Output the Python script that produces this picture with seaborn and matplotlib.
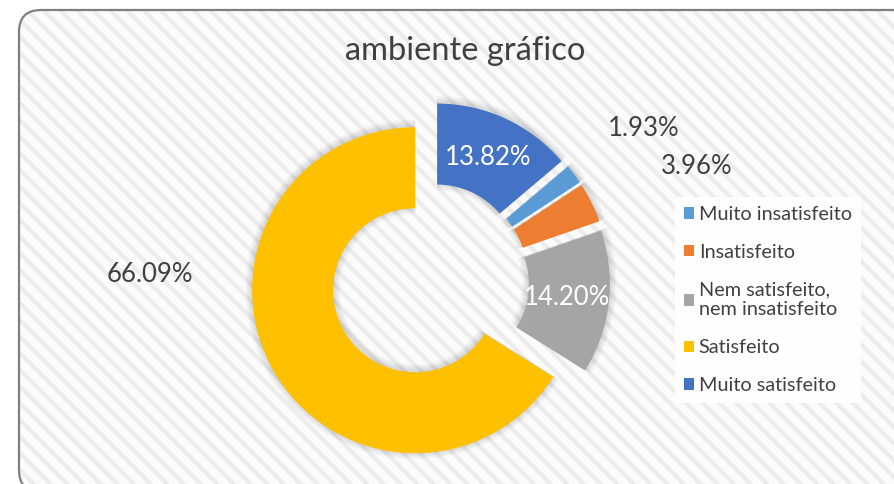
import matplotlib
matplotlib.use('Agg')
import matplotlib.pyplot as plt
import seaborn as sns
import numpy as np
from matplotlib.patches import FancyBboxPatch

# ---- data ----
categories = ['Muito insatisfeito', 'Insatisfeito', 'Nem satisfeito,\nnem insatisfeito',
              'Satisfeito', 'Muito satisfeito']
values = [1.93, 3.96, 14.20, 66.09, 13.82]
value_labels = ['1.93%', '3.96%', '14.20%', '66.09%', '13.82%']
colors = ['#5B9BD5', '#ED7D31', '#A5A5A5', '#FFC000', '#4472C4']
title = 'ambiente gráfico'

# ---- style ----
sns.set_theme(style='white')
plt.rcParams['font.family'] = ['Lato', 'DejaVu Sans']
plt.rcParams['hatch.linewidth'] = 3.0
TXT = '#404040'

W, H = 894, 484
fig = plt.figure(figsize=(W / 100, H / 100), dpi=100)
ax = fig.add_axes([0, 0, 1, 1])

def sy(y):  # screen y -> data y
    return H - y

# background with hatch + rounded border
bg = FancyBboxPatch((19, -8), 920, sy(10) + 8, boxstyle='round,pad=0,rounding_size=22',
                    facecolor='#fbfbfb', edgecolor='#ececec', linewidth=0, hatch='\\\\', zorder=0)
ax.add_patch(bg)
border = FancyBboxPatch((19, -8), 920, sy(10) + 8, boxstyle='round,pad=0,rounding_size=22',
                        facecolor='none', edgecolor='#7f7f7f', linewidth=1.6, zorder=1)
ax.add_patch(border)

cx, cy = 430, sy(282)
R, ring = 163, 81
expl = 17
start = 90 - values[-1] / sum(values) * 360

# soft shadow
for k in range(1, 8):
    ax.pie(values, radius=R + k, center=(cx, cy + 1), explode=[expl] * len(values),
           startangle=start, counterclock=False, colors=['#000000'] * len(values),
           wedgeprops=dict(width=ring + 2 * k, alpha=0.02, linewidth=0), frame=True)

wedges, _ = ax.pie(values, radius=R, center=(cx, cy), explode=[expl] * len(values),
                   startangle=start, counterclock=False, colors=colors,
                   wedgeprops=dict(width=ring, linewidth=0), frame=True)
for w in wedges:
    w.set_zorder(5)

# data labels
outside_pos = {0: (644, 128), 1: (697, 166), 3: (150, 274)}
for i, (w, lab) in enumerate(zip(wedges, value_labels)):
    if i in outside_pos:
        x, y = outside_pos[i]
        ax.text(x, sy(y), lab, ha='center', va='center', fontsize=18.5, color=TXT, zorder=6)
    else:
        ang = np.deg2rad((w.theta1 + w.theta2) / 2)
        rr = R - ring / 2 - 2
        ax.text(w.center[0] + rr * np.cos(ang), w.center[1] + rr * np.sin(ang), lab,
                ha='center', va='center', fontsize=18.5, color='white', zorder=6)

ax.text(465, sy(51), title, ha='center', va='center', fontsize=23.5, color=TXT, zorder=6)

leg = ax.legend(wedges, categories, loc='upper left', bbox_to_anchor=(675 / W, 1 - 197 / H),
                bbox_transform=fig.transFigure, frameon=True, fontsize=14.3,
                handlelength=0.5, handleheight=0.5, handletextpad=0.25, labelspacing=1.05,
                borderpad=0.45, borderaxespad=0, fancybox=False)
leg.get_frame().set_facecolor('white')
leg.get_frame().set_edgecolor('none')
leg.get_frame().set_alpha(0.9)
leg.set_zorder(7)
for t in leg.get_texts():
    t.set_color(TXT)

ax.set_xlim(0, W)
ax.set_ylim(0, H)
ax.set_aspect('auto')
ax.axis('off')
fig.savefig('out.png', dpi=100, facecolor='white')
